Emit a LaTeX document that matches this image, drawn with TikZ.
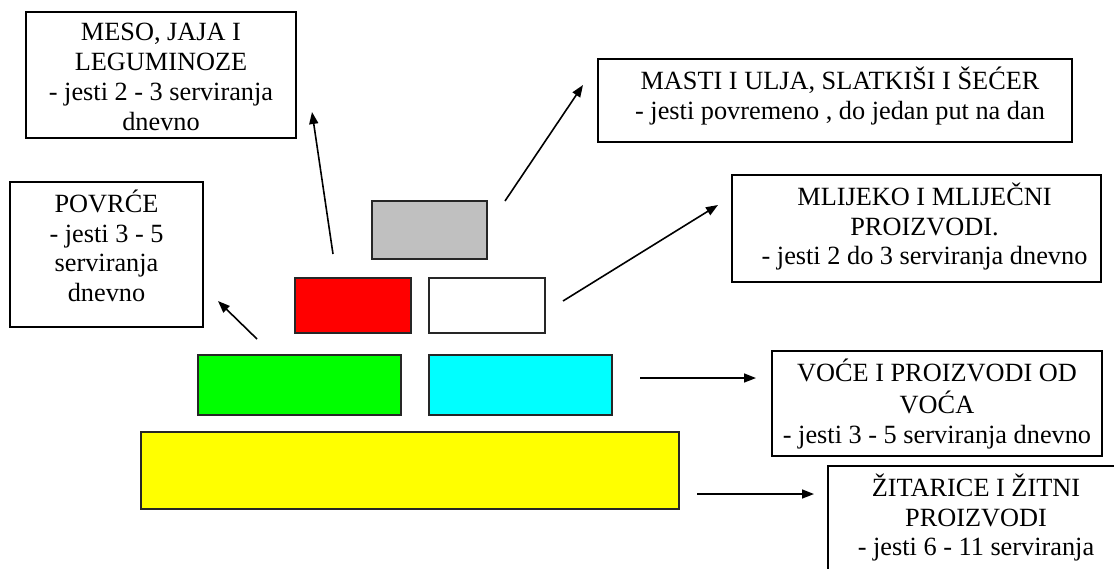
\documentclass[tikz,border=0pt]{standalone}
\usepackage{fontspec}
\setmainfont{Liberation Serif}
\usetikzlibrary{arrows.meta}
\definecolor{pgray}{HTML}{C0C0C0}
\definecolor{pgreen}{HTML}{00FF00}
\definecolor{pcyan}{HTML}{00FFFF}
\definecolor{pred}{HTML}{FF0000}
\definecolor{pyellow}{HTML}{FFFF00}
\begin{document}
\begin{tikzpicture}[x=1pt,y=-1pt,
  tbox/.style={draw=black,line width=1.8pt,inner sep=0pt,fill=white},
  brick/.style={draw=black!85,line width=2pt,inner sep=0pt},
  txt/.style={anchor=north,align=center,inner sep=0pt,yshift=-8.5pt,
    font=\fontsize{26.3}{29.8}\selectfont},
  conn/.style={line width=1.6pt,-{Triangle[length=12pt,width=9pt]}}]
\useasboundingbox (0,0) rectangle (1114,568);
\clip (0,0) rectangle (1114,568);
% text boxes
\node[tbox,minimum width=270pt,minimum height=126pt] (meso) at (161,75) {};
\node[txt] (mesot) at (meso.north) {\strut MESO, JAJA I\\LEGUMINOZE\\- jesti 2 - 3 serviranja\\dnevno};
\node[tbox,minimum width=474pt,minimum height=83pt] (masti) at (835,100.5) {};
\node[txt,xshift=5pt] (mastit) at (masti.north) {\strut MASTI I ULJA, SLATKIŠI I ŠEĆER\\- jesti povremeno , do jedan put na dan};
\node[tbox,minimum width=193pt,minimum height=145pt] (povrce) at (106.5,254.5) {};
\node[txt] (povrcet) at (povrce.north) {\strut POVRĆE\\- jesti 3 - 5\\serviranja\\dnevno};
\node[tbox,minimum width=369pt,minimum height=107pt] (mlijeko) at (916.5,228.5) {};
\node[txt,xshift=8pt] (mlijekot) at (mlijeko.north) {\strut MLIJEKO I MLIJEČNI\\PROIZVODI.\\- jesti 2 do 3 serviranja dnevno};
\node[tbox,minimum width=330pt,minimum height=105pt] (voce) at (937,403.5) {};
\node[txt] (vocet) at (voce.north) {\strut VOĆE I PROIZVODI OD\\VOĆA\\- jesti 3 - 5 serviranja dnevno};
\node[tbox,minimum width=296pt,minimum height=134pt] (zit) at (976,533) {};
\node[txt] (zitt) at (zit.north) {\strut ŽITARICE I ŽITNI\\PROIZVODI\\- jesti 6 - 11 serviranja};
% pyramid
\node[brick,fill=pgray,minimum width=115pt,minimum height=58pt] (gray) at (429.5,230) {};
\node[brick,fill=pred,minimum width=116pt,minimum height=55pt] (red) at (353,305.5) {};
\node[brick,fill=white,minimum width=116pt,minimum height=55pt] (white) at (487,305.5) {};
\node[brick,fill=pgreen,minimum width=203pt,minimum height=60pt] (green) at (299.5,385) {};
\node[brick,fill=pcyan,minimum width=183pt,minimum height=60pt] (cyan) at (520.5,385) {};
\node[brick,fill=pyellow,minimum width=538pt,minimum height=77pt] (yellow) at (410,470.5) {};
% arrow ends
\coordinate (a1s) at (333,254); \coordinate (a1e) at (312,112);
\coordinate (a2s) at (505,201); \coordinate (a2e) at (583,85);
\coordinate (a3s) at (257,339); \coordinate (a3e) at (218,301);
\coordinate (a4s) at (563,301); \coordinate (a4e) at (718,205);
\coordinate (a5s) at (640,378); \coordinate (a5e) at (756,378);
\coordinate (a6s) at (697,494); \coordinate (a6e) at (814,494);
\draw[conn] (a1s) -- (a1e);
\draw[conn] (a2s) -- (a2e);
\draw[conn] (a3s) -- (a3e);
\draw[conn] (a4s) -- (a4e);
\draw[conn] (a5s) -- (a5e);
\draw[conn] (a6s) -- (a6e);
\end{tikzpicture}
\end{document}
